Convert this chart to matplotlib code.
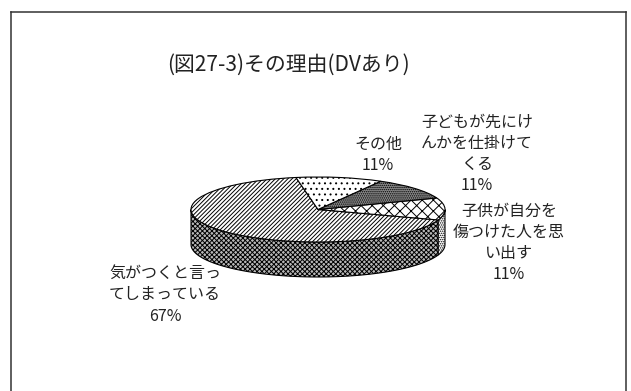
import numpy as np
import matplotlib
matplotlib.use("Agg")
import matplotlib.pyplot as plt
from matplotlib.lines import Line2D

plt.rcParams['font.family'] = ['Noto Sans CJK JP', 'DejaVu Sans']
plt.rcParams['hatch.linewidth'] = 0.7

title = "(図27-3)その理由(DVあり)"
categories = ["気がつくと言っ\nてしまっている", "子供が自分を\n傷つけた人を思\nい出す",
              "子どもが先にけ\nんかを仕掛けて\nくる", "その他"]
values = [67, 11, 11, 11]
percents = ["67%", "11%", "11%", "11%"]
hatches_top = ['////////', 'xxx', '........', '...']
colors_top = ['white', 'white', '#8a8a8a', 'white']
hatches_side = ['///////\\\\\\\\\\\\\\', '........', '........', '...']
colors_side = ['#b8b8b8', 'white', '#8a8a8a', 'white']
start_angle = 100
label_xy_px = [(165, 295), (509, 243), (477, 154), (378, 155)]

W, H = 631, 391
fig = plt.figure(figsize=(W / 100, H / 100), dpi=100, facecolor='white')

# frame, open at the bottom edge of the image
for xs, ys in [([11, 11], [12, H]), ([11, 626], [12, 12]), ([626, 626], [12, H])]:
    fig.add_artist(Line2D([x / W for x in xs], [1 - y / H for y in ys],
                          color='#333333', lw=1.1, transform=fig.transFigure))

# the top ellipse fills this axes
cx0, cx1, cy0, cy1 = 191, 445, 177, 242
depth_px = 35
ax = fig.add_axes([cx0 / W, 1 - cy1 / H, (cx1 - cx0) / W, (cy1 - cy0) / H])
depth = depth_px / ((cy1 - cy0) / 2)

angles = start_angle + np.concatenate([[0], np.cumsum(values)]) * 360 / sum(values)

# side wall, from the same slice angles
for i in range(len(values)):
    lo, hi = angles[i], angles[i + 1]
    for k in (-1, 0, 1):
        a, b = max(lo, 180 + 360 * k), min(hi, 360 + 360 * k)
        if b > a:
            t = np.radians(np.linspace(a, b, 80))
            xs = np.r_[np.cos(t), np.cos(t[::-1])]
            ys = np.r_[np.sin(t), np.sin(t[::-1]) - depth]
            ax.fill(xs, ys, facecolor=colors_side[i], edgecolor='black', lw=0.8,
                    hatch=hatches_side[i], clip_on=False, zorder=1)

wedges, _ = ax.pie(values, startangle=start_angle, counterclock=True, radius=1,
                   colors=colors_top,
                   wedgeprops=dict(edgecolor='black', linewidth=0.8))
for w, h in zip(wedges, hatches_top):
    w.set_hatch(h)
    w.set_clip_on(False)
    w.set_zorder(2)

ax.set_aspect('auto')
ax.set_xlim(-1, 1)
ax.set_ylim(-1, 1)
ax.axis('off')

fig.text(288 / W, 1 - 65 / H, title, fontsize=15, color='#222222', ha='center', va='center')
for cat, pct, (x, y) in zip(categories, percents, label_xy_px):
    fig.text(x / W, 1 - y / H, cat + "\n" + pct, fontsize=11.5, color='#222222',
             ha='center', va='center', linespacing=1.32)

fig.savefig("out.png", dpi=100)
